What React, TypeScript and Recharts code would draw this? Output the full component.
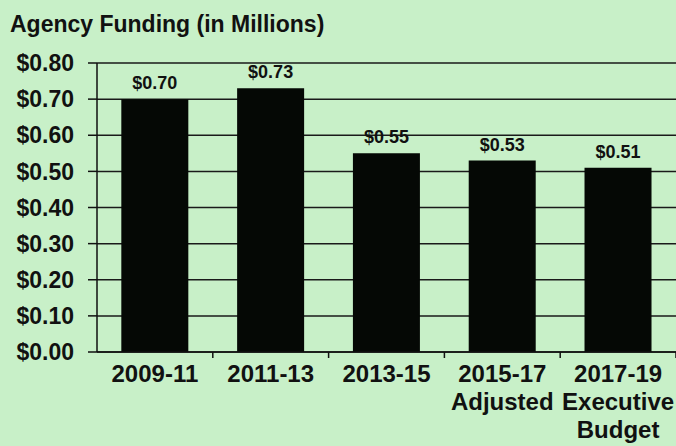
import { Bar, BarChart, CartesianGrid, LabelList, XAxis, YAxis } from "recharts";

const periods = ["2009-11", "2011-13", "2013-15", "2015-17", "2017-19"];
const periodNotes = ["", "", "", "Adjusted", "Executive|Budget"];
const funding = [0.7, 0.73, 0.55, 0.53, 0.51];
const yTicks = [0, 0.1, 0.2, 0.3, 0.4, 0.5, 0.6, 0.7, 0.8];

const data = periods.map((p, i) => ({ period: p, note: periodNotes[i], value: funding[i] }));

const W = 676;
const H = 446;
const LEFT = 97;
const TOP = 63;
const BOTTOM = 94;
const BAND = (W - LEFT) / periods.length;
const FONT = "'Liberation Sans', Arial, sans-serif";

const money = (v: number) => `$${v.toFixed(2)}`;

function PeriodTick(props: any) {
    const { x, y, payload, index } = props;
    const note: string = periodNotes[index] ?? "";
    const lines = [payload.value, ...(note ? note.split("|") : [])];
    return (
        <g>
            <line x1={x + BAND / 2} x2={x + BAND / 2} y1={y - 8} y2={y - 2} stroke="#111" strokeWidth={1.5} />
            {lines.map((l, i) => (
                <text key={i} x={x} y={y + 22 + i * 28} textAnchor="middle"
                    fontFamily={FONT} fontWeight="bold" fontSize={24} fill="#111">
                    {l}
                </text>
            ))}
        </g>
    );
}

export default function App() {
    return (
        <div style={{ position: "fixed", left: 0, top: 0, width: W, height: H, background: "#c8f0c8", overflow: "hidden" }}>
            <div style={{ position: "absolute", left: 10, top: 11, fontFamily: FONT, fontWeight: "bold", fontSize: 23, color: "#111" }}>
                Agency Funding (in Millions)
            </div>
            <BarChart width={W} height={H} data={data} barCategoryGap="21%"
                margin={{ top: TOP, right: 0, bottom: 0, left: 0 }}>
                <CartesianGrid vertical={false} stroke="#1a1a1a" strokeWidth={1.5} strokeOpacity={1} />
                <YAxis type="number" domain={[0, 0.8]} ticks={yTicks} interval={0} width={LEFT}
                    tickFormatter={money} axisLine={{ stroke: "#111", strokeWidth: 1.5 }}
                    tickLine={{ stroke: "#111", strokeWidth: 1.5 }} tickSize={9} tickMargin={14}
                    tick={{ fill: "#111", fontFamily: FONT, fontWeight: "bold", fontSize: 23 }} />
                <XAxis dataKey="period" height={BOTTOM} interval={0} tickLine={false}
                    axisLine={{ stroke: "#111", strokeWidth: 1.5 }} tick={<PeriodTick />} />
                <Bar dataKey="value" fill="#050805" isAnimationActive={false}>
                    <LabelList dataKey="value" position="top" offset={10} formatter={(v: any) => money(Number(v))}
                        fill="#111" fontFamily={FONT} fontWeight="bold" fontSize={18} />
                </Bar>
            </BarChart>
        </div>
    );
}
